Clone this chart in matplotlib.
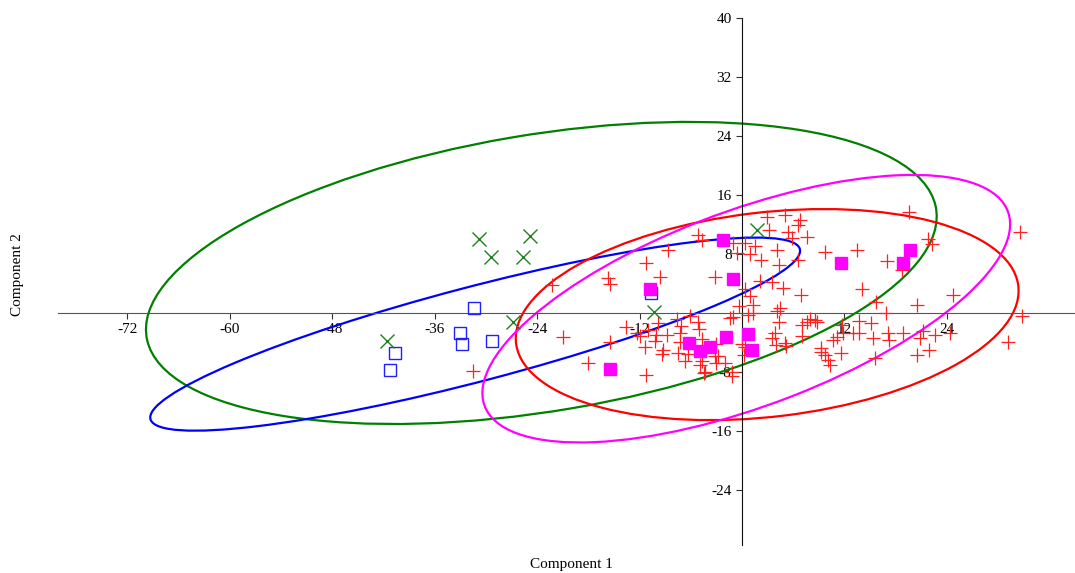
import matplotlib
matplotlib.use('Agg')
import matplotlib.pyplot as plt
from matplotlib.patches import Ellipse
import numpy as np

plt.rcParams['font.family'] = ['Liberation Serif', 'DejaVu Serif']

# group scores (component 1, component 2)
red_x = [-22.2, -21.0, -18.0, -31.5, -15.7, -15.5, -13.6, -15.5, -12.3, -11.9, -11.4, -11.2, -11.2,
         -5.1, -4.7, -8.7, -9.6, -3.2, -0.3, -6.1, -7.6, -7.1, -5.1, -5.0, -9.8, -11.0, -10.1, -8.8,
         -10.2, -9.3, -9.4, -7.3, -4.7, -3.0, -7.5, -6.7, -6.3, -2.8, -3.0, -2.0, -4.5, -4.7, -1.2,
         -7.3, -1.4, 0.4, 1.3, -1.0, 2.9, 5.0, 6.8, 6.6, 3.2, 5.4, 7.6, 5.8, 0.4, 1.5, 4.1, 9.7,
         6.6, 2.2, 4.3, 3.5, 2.1, 4.8, 6.9, 4.4, 4.1, 0.7, 4.3, 8.0, 8.5, 7.0, 7.6, 8.8, 3.9, 3.5,
         7.0, 4.0, 5.0, 5.2, 11.1, 10.7, 11.7, 9.3, 9.3, 9.7, 10.1, 10.3, 11.6, 0.2, 0.4, 19.6,
         21.8, 22.2, 13.5, 17.0, 18.7, 32.6, 14.0, 24.7, 15.7, 20.5, 16.9, 32.8, 13.7, 15.1, 13.0,
         13.7, 15.3, 17.1, 17.2, 18.9, 20.8, 21.2, 22.6, 24.4, 21.9, 20.5, 15.6, 11.8, 31.2, -1.2,
         -4.3, -4.9, -3.2, -1.0, 0.9, 0.9, 1.3, 0.0, -0.6]
red_y = [3.7, -3.3, -6.8, -7.9, 4.7, 3.9, -1.9, -4.0, -2.7, -3.2, -4.6, 6.7, -8.5,
         10.6, 9.9, 8.5, 4.9, 4.9, 0.9, -0.4, -0.9, -1.8, -1.3, -2.2, -1.4, -2.3, -3.0, -3.0,
         -3.8, -5.0, -5.6, -4.0, -3.6, -4.3, -5.5, -6.6, -5.6, -5.8, -6.8, -6.8, -8.2, -6.6, -8.0,
         -2.8, -0.7, 3.2, 1.1, -0.6, 13.0, 13.3, 12.6, 11.9, 11.2, 11.0, 10.3, 10.1, 9.5, 9.0, 8.5, 8.2,
         7.2, 7.1, 6.5, 4.2, 4.3, 3.4, 2.4, 0.6, 0.2, -0.3, -1.2, -0.9, -1.0, -1.6, -1.3, -1.3, -2.8, -3.4,
         -3.2, -4.4, -4.1, -4.5, -3.3, -3.7, -1.6, -4.8, -5.3, -5.7, -6.4, -7.1, -5.5, -5.7, -4.6, 13.7,
         10.0, 9.3, 8.5, 7.0, 5.8, 10.9, 3.2, 2.4, 1.5, 1.1, 0.0, -0.5, -1.1, -1.4, -2.8,
         -2.7, -3.4, -2.8, -3.7, -2.8, -3.4, -2.5, -3.0, -2.7, -5.0, -5.7, -6.1, -2.8, -4.0, -8.6,
         -8.0, -7.1, -5.9, 9.5, 8.0, 2.3, -0.1, -4.3, 8.1]

magenta_x = [-2.2, -1.0, -10.8, -6.2, -4.9, -3.75, -1.9, 0.74, 1.2, -15.4, 11.6, 19.7, 18.9]
magenta_y = [9.9, 4.6, 3.2, -4.1, -5.25, -4.65, -3.3, -2.9, -5.0, -7.6, 6.8, 8.55, 6.8]

blue_x = [-31.4, -33.0, -32.8, -29.3, -40.6, -41.2, -10.6]
blue_y = [0.6, -2.7, -4.2, -3.8, -5.4, -7.7, 2.7]

green_x = [-30.8, -24.8, -29.4, -25.7, -26.8, -41.6, -10.3, 1.7]
green_y = [10.0, 10.35, 7.6, 7.6, -1.3, -3.8, 0.1, 11.2]

# ellipse centres and covariances: green, blue, red, magenta
ell_centres = [(-23.5, 5.4), (-31.25, -2.9), (2.95, -0.25), (0.5, 0.55)]
ell_covs = [[[2144, 355], [355, 420]],
            [[1448, 430], [430, 171.6]],
            [[867, 95], [95, 205]],
            [[955, 354], [354, 329.4]]]
ell_colors = ['#008000', '#0000ff', '#ff0000', '#ff00ff']

xticks = [-72, -60, -48, -36, -24, -12, 12, 24]
yticks = [-24, -16, -8, 8, 16, 24, 32, 40]

fig = plt.figure(figsize=(10.75, 5.73), dpi=100)
ax = fig.add_axes([0.054, 0.049, 0.946, 0.9197])

for c, cov, col in zip(ell_centres, ell_covs, ell_colors):
    vals, vecs = np.linalg.eigh(np.array(cov, dtype=float))
    ang = np.degrees(np.arctan2(vecs[1, 1], vecs[0, 1]))
    e = Ellipse(c, 2 * np.sqrt(vals[1]), 2 * np.sqrt(vals[0]), angle=ang,
                fill=False, edgecolor=col, lw=1.6, zorder=2)
    ax.add_patch(e)

ax.plot(red_x, red_y, '+', color='#ff2020', ms=10, mew=0.9, zorder=3)
ax.plot(blue_x, blue_y, 's', mfc='none', mec='#2020ff', ms=9, mew=1.0, zorder=3)
ax.plot(magenta_x, magenta_y, 's', color='#ff00ff', ms=8.5, zorder=4)
ax.plot(green_x, green_y, 'x', color='#208020', ms=10, mew=1.0, zorder=4)

ax.set_xlim(-80.1, 39.0)
ax.set_ylim(-31.5, 40.0)

ax.spines['left'].set_position(('data', 0))
ax.spines['bottom'].set_position(('data', 0))
ax.spines['top'].set_visible(False)
ax.spines['right'].set_visible(False)
ax.spines['bottom'].set_color('#555555')
ax.spines['left'].set_color('#111111')

ax.set_xticks(xticks)
ax.set_yticks(yticks)
ax.set_xticklabels([str(t) for t in xticks])
ax.set_yticklabels([str(t) for t in yticks])
ax.tick_params(axis='both', labelsize=11, length=4, direction='out', color='#333333')

fig.text(0.532, 0.014, 'Component 1', ha='center', va='center', fontsize=11)
fig.text(0.016, 0.52, 'Component 2', ha='center', va='center', rotation=90, fontsize=11)

fig.savefig('out.png', dpi=100)
